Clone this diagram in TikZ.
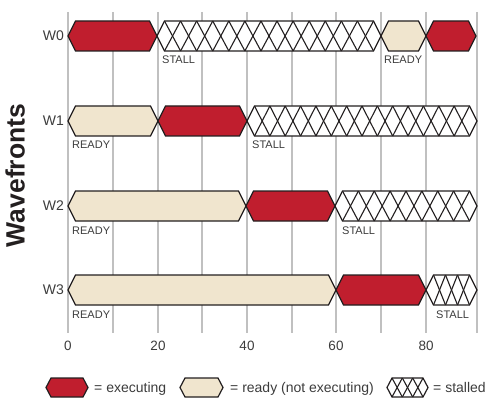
\documentclass[tikz,border=0pt]{standalone}
\usepackage{fontspec}
\setmainfont{Liberation Sans}
\definecolor{execred}{RGB}{192,30,46}
\definecolor{readybeige}{RGB}{240,229,206}
\definecolor{outlinedark}{RGB}{35,31,32}
\definecolor{gridgray}{RGB}{192,192,192}
\definecolor{labelgray}{RGB}{60,60,60}
\tikzset{
  outline/.style={draw=outlinedark,line width=1.2pt,line join=miter},
  execbar/.style={outline,fill=execred},
  readybar/.style={outline,fill=readybeige},
  stallfill/.style={outline,fill=white},
  stallline/.style={draw=outlinedark,line width=1.1pt},
  gridline/.style={draw=gridgray,line width=1.2pt},
  rowlabel/.style={font=\fontsize{14}{15}\selectfont,text=labelgray,anchor=east,inner sep=0pt},
  seglabel/.style={font=\fontsize{11}{12}\selectfont,text=labelgray,anchor=base west,inner sep=0pt},
  ticklabel/.style={font=\fontsize{13.5}{14}\selectfont,text=labelgray,anchor=center,inner sep=0pt},
  legendtext/.style={font=\fontsize{14}{15}\selectfont,text=labelgray,anchor=base west,inner sep=0pt},
}
% x0, x1, yc, half height, indent, style
\newcommand\hexbar[6]{%
  \draw[#6] (#1,#3) -- (#1+#5,#3-#4) -- (#2-#5,#3-#4) -- (#2,#3)
    -- (#2-#5,#3+#4) -- (#1+#5,#3+#4) -- cycle;}
% x0, x1, yc, half height, indent, n
\newcommand\stallbar[6]{%
  \fill[white] (#1,#3) -- (#1+#5,#3-#4) -- (#2-#5,#3-#4) -- (#2,#3)
    -- (#2-#5,#3+#4) -- (#1+#5,#3+#4) -- cycle;
  \pgfmathsetmacro\stallw{(#2-#1-2*#5)/#6}%
  \pgfmathtruncatemacro\stalllast{#6-1}%
  \foreach \k in {0,...,\stalllast}{%
    \draw[stallline] ({#1+#5+\k*\stallw},#3-#4) -- ({#1+#5+(\k+1)*\stallw},#3+#4);
    \draw[stallline] ({#1+#5+\k*\stallw},#3+#4) -- ({#1+#5+(\k+1)*\stallw},#3-#4);
  }%
  \hexbar{#1}{#2}{#3}{#4}{#5}{outline}}
\begin{document}
\begin{tikzpicture}[x=1pt,y=-1pt]
\useasboundingbox (0,0) rectangle (486,414);
% grid
\foreach \gx in {68,113,158,202,247,292,336,381,426,477}
  \draw[gridline] (\gx,12) -- (\gx,333);
% row labels
\node[rowlabel] (w0) at (64,36) {W0};
\node[rowlabel] (w1) at (64,121) {W1};
\node[rowlabel] (w2) at (64,206) {W2};
\node[rowlabel] (w3) at (64,290) {W3};
% W0
\hexbar{68}{157}{36}{15}{7.5}{execbar}
\stallbar{157}{381}{36}{15}{7.5}{13}
\hexbar{381}{426}{36}{15}{7.5}{readybar}
\hexbar{426}{476}{36}{15}{7.5}{execbar}
\node[seglabel] (l0a) at (162,64) {STALL};
\node[seglabel] (l0b) at (384,64) {READY};
% W1
\hexbar{68}{158}{121}{15}{7.5}{readybar}
\hexbar{158}{247}{121}{15}{7.5}{execbar}
\stallbar{247}{477}{121}{15}{7.5}{14}
\node[seglabel] (l1a) at (72,149) {READY};
\node[seglabel] (l1b) at (252,149) {STALL};
% W2
\hexbar{68}{246}{206}{15}{7.5}{readybar}
\hexbar{246}{335}{206}{15}{7.5}{execbar}
\stallbar{335}{477}{206}{15}{7.5}{8}
\node[seglabel] (l2a) at (72,234) {READY};
\node[seglabel] (l2b) at (342,234) {STALL};
% W3
\hexbar{68}{336}{290}{15}{7.5}{readybar}
\hexbar{336}{426}{290}{15}{7.5}{execbar}
\stallbar{426}{477}{290}{15}{7.5}{3}
\node[seglabel] (l3a) at (72,318) {READY};
\node[seglabel] (l3b) at (436,318) {STALL};
% axis labels
\node[ticklabel] (t0) at (68,346) {0};
\node[ticklabel] (t20) at (158,346) {20};
\node[ticklabel] (t40) at (247,346) {40};
\node[ticklabel] (t60) at (336,346) {60};
\node[ticklabel] (t80) at (426,346) {80};
% y title
\node[font=\bfseries\fontsize{26.5}{28}\selectfont,text=outlinedark,rotate=90,anchor=base,inner sep=0pt] (title) at (24.5,175.5) {Wavefronts};
% legend
\hexbar{46}{88}{387.5}{9.5}{5}{execbar}
\node[legendtext] (lg1) at (94,392.5) {= executing};
\hexbar{180}{223}{387.5}{9.5}{5}{readybar}
\node[legendtext] (lg2) at (230,392.5) {= ready (not executing)};
\stallbar{387}{428}{387.5}{9.5}{5}{3}
\node[legendtext] (lg3) at (433,392.5) {= stalled};
\end{tikzpicture}
\end{document}
